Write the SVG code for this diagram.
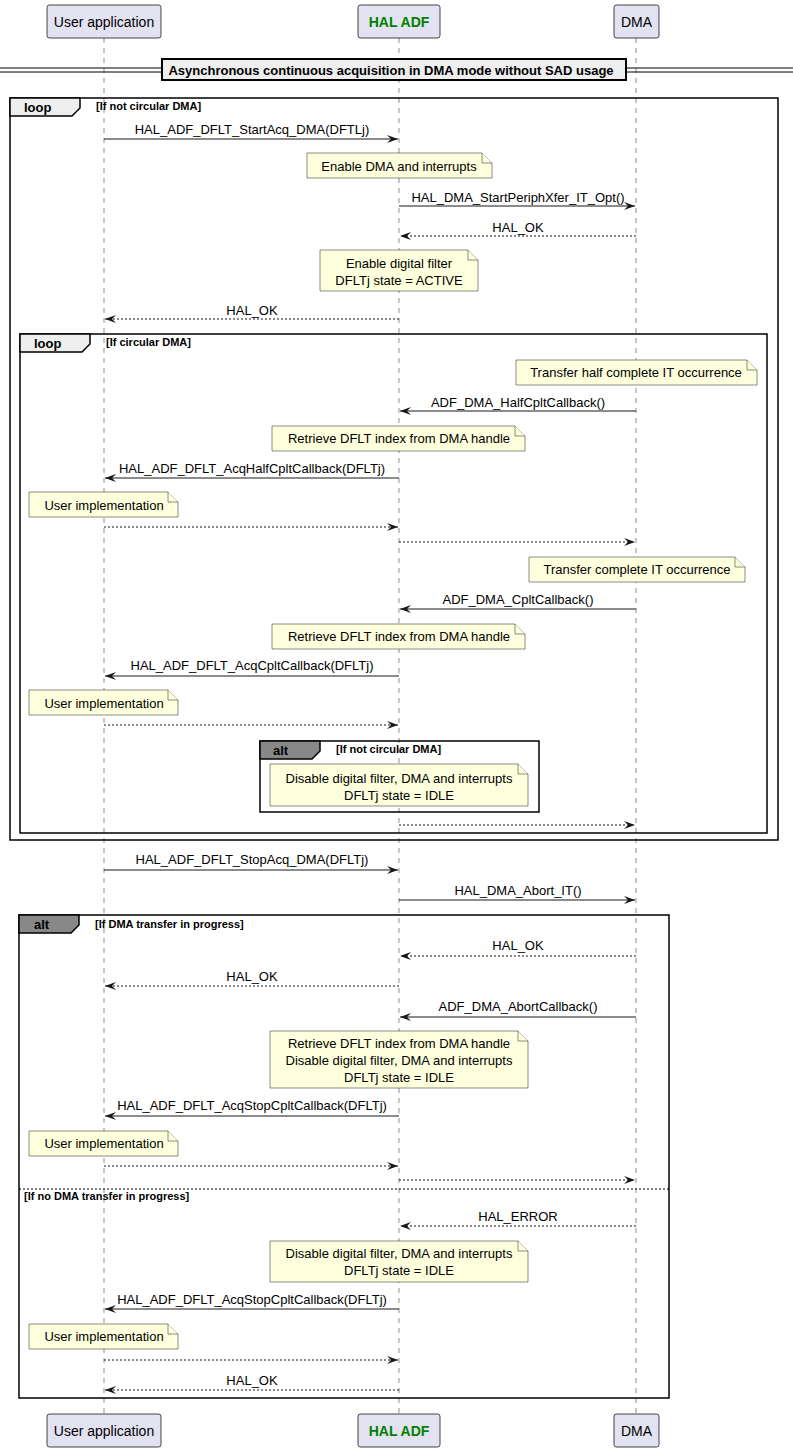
<svg xmlns="http://www.w3.org/2000/svg" width="793" height="1451" viewBox="0 0 793 1451">
<defs>
<marker id="ah" markerUnits="userSpaceOnUse" markerWidth="13" markerHeight="10" refX="11" refY="4" orient="auto"><path d="M0,0 L11,4 L0,8 L4,4 Z" fill="#181818"/></marker>
<style>
text{font-family:"Liberation Sans",Arial,sans-serif;fill:#000}
.p{fill:#E2E2F0;stroke:#181818;stroke-width:0.8}
.pt{font-size:14px;text-anchor:middle}
.ll{stroke:#181818;stroke-width:0.5;stroke-dasharray:5,5}
.m{stroke:#181818;stroke-width:1;fill:none;marker-end:url(#ah)}
.d{stroke-dasharray:2,2}
.ml{font-size:13px;text-anchor:middle}
.n{fill:#FEFFDD;stroke:#181818;stroke-width:0.5}
.nt{font-size:13px;text-anchor:middle}
.fr{fill:none;stroke:#000;stroke-width:1.5}
.tab{stroke:#000;stroke-width:1.5}
.ft{font-size:13px;font-weight:bold}
.fc{font-size:11px;font-weight:bold}
</style>
</defs>
<g id="lifelines">
<line class="ll" x1="104" y1="38" x2="104" y2="1414"/>
<line class="ll" x1="399" y1="38" x2="399" y2="1414"/>
<line class="ll" x1="636" y1="38" x2="636" y2="1414"/>
</g>
<g id="p-user"><rect class="p" x="47" y="5" width="114" height="33" rx="2.5"/><text class="pt" x="104" y="27">User application</text>
<rect class="p" x="47" y="1414" width="114" height="33" rx="2.5"/><text class="pt" x="104" y="1436">User application</text></g>
<g id="p-hal"><rect class="p" x="358" y="5" width="82" height="33" rx="2.5"/><text class="pt" x="399" y="27" style="font-weight:bold;fill:#008000">HAL ADF</text>
<rect class="p" x="358" y="1414" width="82" height="33" rx="2.5"/><text class="pt" x="399" y="1436" style="font-weight:bold;fill:#008000">HAL ADF</text></g>
<g id="p-dma"><rect class="p" x="614" y="5" width="45" height="33" rx="2.5"/><text class="pt" x="636.5" y="27">DMA</text>
<rect class="p" x="614" y="1414" width="45" height="33" rx="2.5"/><text class="pt" x="636.5" y="1436">DMA</text></g>
<g id="divider">
<line x1="0" y1="68" x2="793" y2="68" stroke="#000" stroke-width="1"/>
<line x1="0" y1="72" x2="793" y2="72" stroke="#000" stroke-width="1"/>
<rect x="162" y="59" width="464" height="21" fill="#EEEEEE" stroke="#000" stroke-width="2"/>
<text x="391" y="75" style="font-size:13px;font-weight:bold;text-anchor:middle">Asynchronous continuous acquisition in DMA mode without SAD usage</text>
</g>
<g id="frames">
<rect class="fr" x="10" y="98" width="768" height="742"/>
<path class="tab" d="M10,98 H80 V108 L72,116 H10 Z" fill="#EEEEEE"/>
<text class="ft" x="24" y="112">loop</text>
<text class="fc" x="96" y="110">[If not circular DMA]</text>
<rect class="fr" x="20" y="334" width="747" height="499"/>
<path class="tab" d="M20,334 H90 V344 L82,352 H20 Z" fill="#EEEEEE"/>
<text class="ft" x="34" y="348">loop</text>
<text class="fc" x="106" y="346">[If circular DMA]</text>
<rect class="fr" x="260" y="741" width="279" height="71"/>
<path class="tab" d="M260,741 H320 V751 L312,759 H260 Z" fill="#888888"/>
<text class="ft" x="273" y="755">alt</text>
<text class="fc" x="336" y="753">[If not circular DMA]</text>
<rect class="fr" x="19" y="915" width="650" height="483"/>
<path class="tab" d="M19,915 H79 V925 L71,933 H19 Z" fill="#888888"/>
<text class="ft" x="34" y="929">alt</text>
<text class="fc" x="95" y="928">[If DMA transfer in progress]</text>
<line x1="19" y1="1189" x2="669" y2="1189" stroke="#000" stroke-width="1" stroke-dasharray="2,2"/>
<text class="fc" x="24" y="1200">[If no DMA transfer in progress]</text>
</g>
<g id="connectors">
<line class="m" x1="104" y1="139" x2="398" y2="139"/><text class="ml" x="252" y="134">HAL_ADF_DFLT_StartAcq_DMA(DFTLj)</text>
<line class="m" x1="399" y1="206" x2="635" y2="206"/><text class="ml" x="518" y="202">HAL_DMA_StartPeriphXfer_IT_Opt()</text>
<line class="m d" x1="636" y1="236" x2="400" y2="236"/><text class="ml" x="518" y="232">HAL_OK</text>
<line class="m d" x1="399" y1="319" x2="105" y2="319"/><text class="ml" x="252" y="315">HAL_OK</text>
<line class="m" x1="636" y1="411" x2="400" y2="411"/><text class="ml" x="518" y="407">ADF_DMA_HalfCpltCallback()</text>
<line class="m" x1="399" y1="478" x2="105" y2="478"/><text class="ml" x="252" y="473">HAL_ADF_DFLT_AcqHalfCpltCallback(DFLTj)</text>
<line class="m d" x1="104" y1="527" x2="398" y2="527"/>
<line class="m d" x1="399" y1="542" x2="635" y2="542"/>
<line class="m" x1="636" y1="609" x2="400" y2="609"/><text class="ml" x="518" y="604">ADF_DMA_CpltCallback()</text>
<line class="m" x1="399" y1="676" x2="105" y2="676"/><text class="ml" x="252" y="670">HAL_ADF_DFLT_AcqCpltCallback(DFLTj)</text>
<line class="m d" x1="104" y1="725" x2="398" y2="725"/>
<line class="m d" x1="399" y1="825" x2="635" y2="825"/>
<line class="m" x1="104" y1="870" x2="398" y2="870"/><text class="ml" x="252" y="864">HAL_ADF_DFLT_StopAcq_DMA(DFLTj)</text>
<line class="m" x1="399" y1="900" x2="635" y2="900"/><text class="ml" x="518" y="895">HAL_DMA_Abort_IT()</text>
<line class="m d" x1="636" y1="956" x2="400" y2="956"/><text class="ml" x="518" y="950">HAL_OK</text>
<line class="m d" x1="399" y1="986" x2="105" y2="986"/><text class="ml" x="252" y="981">HAL_OK</text>
<line class="m" x1="636" y1="1017" x2="400" y2="1017"/><text class="ml" x="518" y="1011">ADF_DMA_AbortCallback()</text>
<line class="m" x1="399" y1="1116" x2="105" y2="1116"/><text class="ml" x="252" y="1110">HAL_ADF_DFLT_AcqStopCpltCallback(DFLTj)</text>
<line class="m d" x1="104" y1="1166" x2="398" y2="1166"/>
<line class="m d" x1="399" y1="1180" x2="635" y2="1180"/>
<line class="m d" x1="636" y1="1226" x2="400" y2="1226"/><text class="ml" x="518" y="1221">HAL_ERROR</text>
<line class="m" x1="399" y1="1309" x2="105" y2="1309"/><text class="ml" x="252" y="1304">HAL_ADF_DFLT_AcqStopCpltCallback(DFLTj)</text>
<line class="m d" x1="104" y1="1360" x2="398" y2="1360"/>
<line class="m d" x1="399" y1="1390" x2="105" y2="1390"/><text class="ml" x="252" y="1385">HAL_OK</text>
</g>
<g id="note1"><path class="n" d="M307,153 H482 L492,163 V178 H307 Z"/><path class="n" d="M482,153 V163 H492" fill="none"/><text class="nt" x="399" y="171">Enable DMA and interrupts</text></g>
<g id="note2"><path class="n" d="M320,250 H468 L478,260 V291 H320 Z"/><path class="n" d="M468,250 V260 H478" fill="none"/><text class="nt" x="399" y="268">Enable digital filter</text><text class="nt" x="399" y="285">DFLTj state = ACTIVE</text></g>
<g id="note3"><path class="n" d="M516,360 H747 L757,370 V385 H516 Z"/><path class="n" d="M747,360 V370 H757" fill="none"/><text class="nt" x="636" y="377">Transfer half complete IT occurrence</text></g>
<g id="note4"><path class="n" d="M272,426 H515 L525,436 V451 H272 Z"/><path class="n" d="M515,426 V436 H525" fill="none"/><text class="nt" x="399" y="443">Retrieve DFLT index from DMA handle</text></g>
<g id="note5"><path class="n" d="M29,492 H168 L178,502 V517 H29 Z"/><path class="n" d="M168,492 V502 H178" fill="none"/><text class="nt" x="104" y="510">User implementation</text></g>
<g id="note6"><path class="n" d="M529,557 H735 L745,567 V582 H529 Z"/><path class="n" d="M735,557 V567 H745" fill="none"/><text class="nt" x="637" y="574">Transfer complete IT occurrence</text></g>
<g id="note7"><path class="n" d="M272,624 H515 L525,634 V649 H272 Z"/><path class="n" d="M515,624 V634 H525" fill="none"/><text class="nt" x="399" y="641">Retrieve DFLT index from DMA handle</text></g>
<g id="note8"><path class="n" d="M29,690 H168 L178,700 V715 H29 Z"/><path class="n" d="M168,690 V700 H178" fill="none"/><text class="nt" x="104" y="708">User implementation</text></g>
<g id="note9"><path class="n" d="M270,764 H518 L528,774 V806 H270 Z"/><path class="n" d="M518,764 V774 H528" fill="none"/><text class="nt" x="399" y="783">Disable digital filter, DMA and interrupts</text><text class="nt" x="399" y="800">DFLTj state = IDLE</text></g>
<g id="note10"><path class="n" d="M270,1031 H518 L528,1041 V1088 H270 Z"/><path class="n" d="M518,1031 V1041 H528" fill="none"/><text class="nt" x="399" y="1048">Retrieve DFLT index from DMA handle</text><text class="nt" x="399" y="1065">Disable digital filter, DMA and interrupts</text><text class="nt" x="399" y="1082">DFLTj state = IDLE</text></g>
<g id="note11"><path class="n" d="M29,1131 H168 L178,1141 V1156 H29 Z"/><path class="n" d="M168,1131 V1141 H178" fill="none"/><text class="nt" x="104" y="1148">User implementation</text></g>
<g id="note12"><path class="n" d="M270,1241 H518 L528,1251 V1282 H270 Z"/><path class="n" d="M518,1241 V1251 H528" fill="none"/><text class="nt" x="399" y="1258">Disable digital filter, DMA and interrupts</text><text class="nt" x="399" y="1275">DFLTj state = IDLE</text></g>
<g id="note13"><path class="n" d="M29,1324 H168 L178,1334 V1349 H29 Z"/><path class="n" d="M168,1324 V1334 H178" fill="none"/><text class="nt" x="104" y="1341">User implementation</text></g>
</svg>
